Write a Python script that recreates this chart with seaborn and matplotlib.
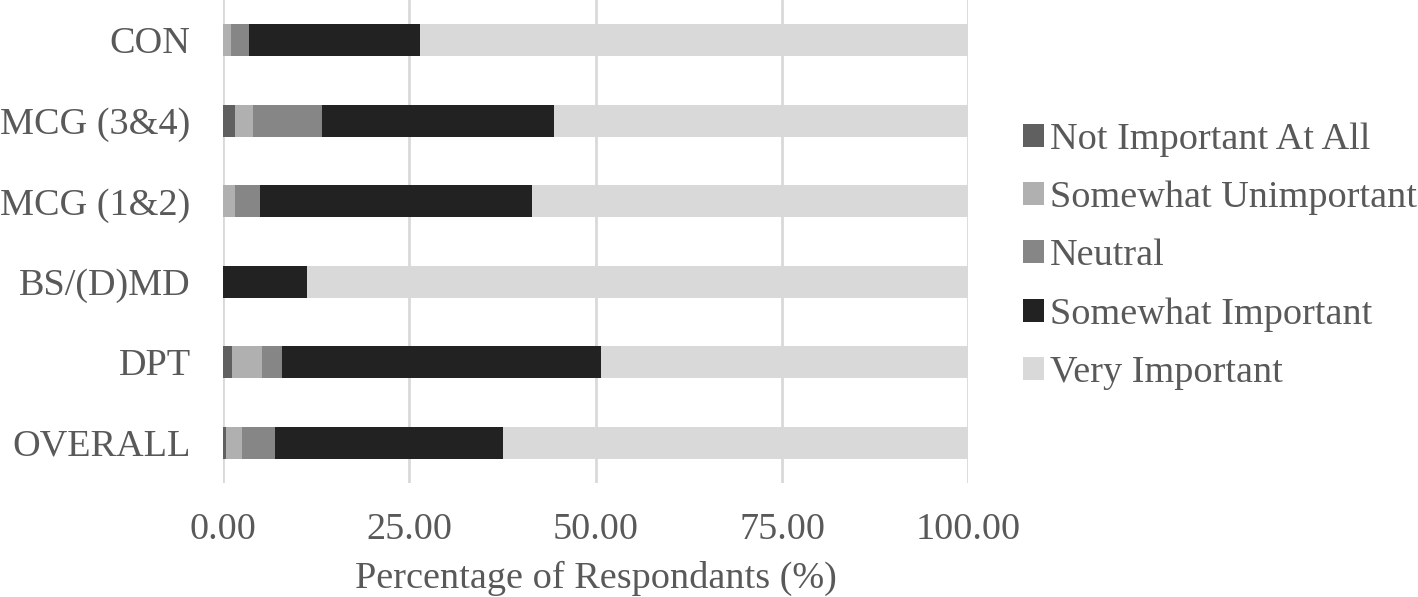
import numpy as np
import pandas as pd
import matplotlib
matplotlib.use("Agg")
import matplotlib.pyplot as plt
import seaborn as sns
from matplotlib.patches import Patch

# data (percent of respondents)
groups = ["CON", "MCG (3&4)", "MCG (1&2)", "BS/(D)MD", "DPT", "OVERALL"]
levels = ["Not Important At All", "Somewhat Unimportant", "Neutral",
          "Somewhat Important", "Very Important"]
not_important = [0.0, 1.6, 0.0, 0.0, 1.3, 0.5]
somewhat_unimportant = [1.1, 2.5, 1.6, 0.0, 4.0, 2.1]
neutral = [2.5, 9.2, 3.4, 0.0, 2.7, 4.4]
somewhat_important = [22.9, 31.1, 36.5, 11.3, 42.7, 30.6]
very_important = [73.5, 55.6, 58.5, 88.7, 49.3, 62.4]

colors = ["#606060", "#b0b0b0", "#868686", "#222222", "#d9d9d9"]
text_color = "#595959"

df = pd.DataFrame({
    "group": groups,
    levels[0]: not_important,
    levels[1]: somewhat_unimportant,
    levels[2]: neutral,
    levels[3]: somewhat_important,
    levels[4]: very_important,
})
cum = df[levels].cumsum(axis=1)
cum["group"] = df["group"]

sns.set_style("white")
plt.rcParams['font.family'] = ['Liberation Serif', 'DejaVu Serif']

fig, ax = plt.subplots(figsize=(14.18, 5.97), dpi=100)
fig.subplots_adjust(left=0.157, right=0.683, top=1.0, bottom=0.191)

ax.set_axisbelow(True)
for v in [0, 25, 50, 75, 100]:
    ax.axvline(v, color="#d9d9d9", lw=2, zorder=0)

# stacked bars: draw cumulative totals from the largest down
for lev, col in reversed(list(zip(levels, colors))):
    sns.barplot(data=cum, x=lev, y="group", order=groups, color=col,
                width=0.4, linewidth=0, saturation=1, ax=ax, zorder=2)

ax.set_xlim(0, 100)
ax.set_ylim(5.5, -0.5)
ax.set_xticks([0, 25, 50, 75, 100])
ax.set_xticklabels([f"{v:.2f}" for v in [0, 25, 50, 75, 100]])
ax.tick_params(axis="both", length=0, labelsize=27.5, labelcolor=text_color)
ax.tick_params(axis="x", pad=21)
ax.tick_params(axis="y", pad=23)
ax.set_ylabel("")
ax.set_xlabel("Percentage of Respondants (%)", fontsize=27.5, color=text_color, labelpad=10)
for s in ax.spines.values():
    s.set_visible(False)

handles = [Patch(facecolor=c, edgecolor="none") for c in colors]
leg = fig.legend(handles, levels, loc="center left", bbox_to_anchor=(0.7105, 0.571),
                 frameon=False, fontsize=27.5, handlelength=0.55, handleheight=0.55,
                 handletextpad=0.15, labelspacing=0.62, borderaxespad=0)
for t in leg.get_texts():
    t.set_color(text_color)

fig.savefig("out.png", dpi=100)
